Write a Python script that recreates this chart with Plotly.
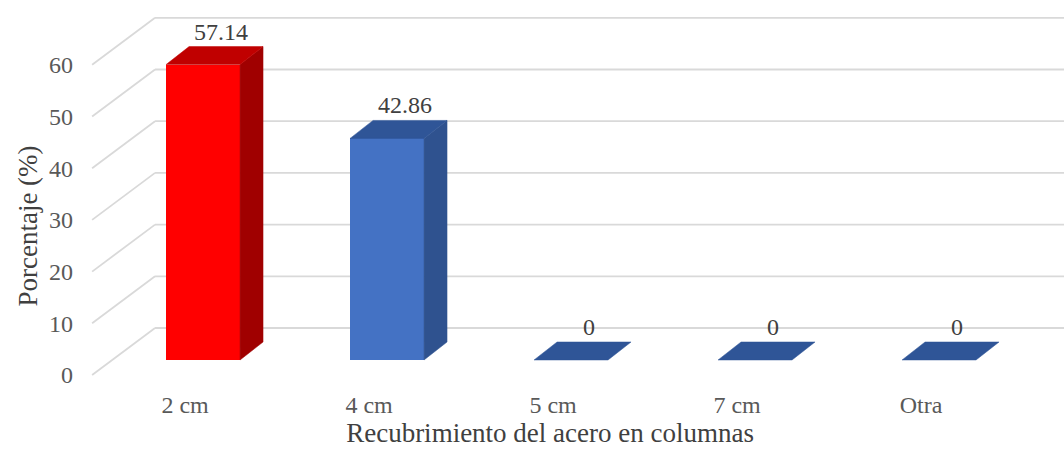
import plotly.graph_objects as go

# ---- data ----
categories = ["2 cm", "4 cm", "5 cm", "7 cm", "Otra"]
percentages = [57.14, 42.86, 0, 0, 0]
y_ticks = [0, 10, 20, 30, 40, 50, 60]

# ---- colours (front, top, side faces of each column) ----
front_colors = ["#FF0000", "#4472C4", "#4472C4", "#4472C4", "#4472C4"]
top_colors = ["#C00000", "#2F5597", "#2F5597", "#2F5597", "#2F5597"]
side_colors = ["#A00000", "#2F528F", "#2F528F", "#2F528F", "#2F528F"]

# ---- pseudo-3D geometry, in axis units ----
BAR_SHIFT = 0.098      # column front face centre relative to its category tick
BAR_W = 0.402          # front face width
DEPTH_X = 0.125        # horizontal depth of the column
DEPTH_Y = 3.48         # vertical depth of the column (value units)
WALL_X = -0.163        # x where the back wall starts
FRONT_X = -0.505       # x where the floor diagonals start
WALL_RISE = 9.09       # vertical offset of the back wall relative to the front scale
X_RANGE = [-0.809, 4.777]
Y_RANGE = [-14.89, 72.53]   # front scale (tick labels, diagonals, wall)
Y2_RANGE = [-17.80, 69.63]  # columns

FONT = '"Liberation Serif", "Times New Roman", Times, serif'
TEXT = "#595959"
GRID = "#D9D9D9"

xs = list(range(len(categories)))

fig = go.Figure()

# front faces
fig.add_trace(go.Bar(
    x=[i + BAR_SHIFT for i in xs], y=percentages, width=BAR_W,
    marker=dict(color=front_colors, line=dict(width=0)),
    yaxis="y2", hoverinfo="skip", showlegend=False,
))

# side and top faces
for i, v in zip(xs, percentages):
    xl = i + BAR_SHIFT - BAR_W / 2
    xr = i + BAR_SHIFT + BAR_W / 2
    if v > 0:
        fig.add_trace(go.Scatter(
            x=[xr, xr + DEPTH_X, xr + DEPTH_X, xr, xr],
            y=[0, DEPTH_Y, v + DEPTH_Y, v, 0],
            fill="toself", fillcolor=side_colors[i], mode="lines",
            line=dict(width=0.5, color=side_colors[i]),
            yaxis="y2", hoverinfo="skip", showlegend=False,
        ))
    fig.add_trace(go.Scatter(
        x=[xl, xr, xr + DEPTH_X, xl + DEPTH_X, xl],
        y=[v, v, v + DEPTH_Y, v + DEPTH_Y, v],
        fill="toself", fillcolor=top_colors[i], mode="lines",
        line=dict(width=0.5, color=top_colors[i]),
        yaxis="y2", hoverinfo="skip", showlegend=False,
    ))

# back wall gridlines and floor diagonals
shapes = []
for t in y_ticks:
    shapes.append(dict(type="line", xref="x", yref="y", layer="below",
                       x0=WALL_X, y0=t + WALL_RISE, x1=X_RANGE[1], y1=t + WALL_RISE,
                       line=dict(color=GRID, width=1.8)))
    shapes.append(dict(type="line", xref="x", yref="y", layer="below",
                       x0=FRONT_X, y0=t, x1=WALL_X, y1=t + WALL_RISE,
                       line=dict(color=GRID, width=1.8)))

# value labels
annotations = []
for i, v in zip(xs, percentages):
    annotations.append(dict(
        x=i + BAR_SHIFT + DEPTH_X * 0.8, y=v + DEPTH_Y, xref="x", yref="y2",
        text=f"{v:g}" if v == 0 else f"{v:.2f}", showarrow=False,
        yanchor="bottom", yshift=0,
        font=dict(family=FONT, size=24, color="#404040"),
    ))

fig.update_layout(
    width=1064, height=452,
    margin=dict(l=0, r=0, t=0, b=0),
    paper_bgcolor="white", plot_bgcolor="white",
    bargap=0,
    shapes=shapes, annotations=annotations,
    xaxis=dict(
        domain=[0.034, 1], range=X_RANGE,
        tickmode="array", tickvals=xs, ticktext=categories,
        showgrid=False, zeroline=False, showline=False, ticks="",
        anchor="free", position=1 - 388 / 452,
        tickfont=dict(family=FONT, size=24, color=TEXT),
        title=dict(text="Recubrimiento del acero en columnas", standoff=2,
                   font=dict(family=FONT, size=27, color="#404040")),
    ),
    yaxis=dict(
        domain=[0, 1], range=Y_RANGE,
        tickmode="array", tickvals=y_ticks,
        showgrid=False, zeroline=False, showline=False, ticks="",
        anchor="free", position=73 / 1064,
        tickfont=dict(family=FONT, size=24, color=TEXT),
        title=dict(text="Porcentaje (%)", standoff=2,
                   font=dict(family=FONT, size=27, color="#404040")),
    ),
    yaxis2=dict(
        range=Y2_RANGE, overlaying="y", visible=False,
    ),
)

fig.write_html("out.html")
